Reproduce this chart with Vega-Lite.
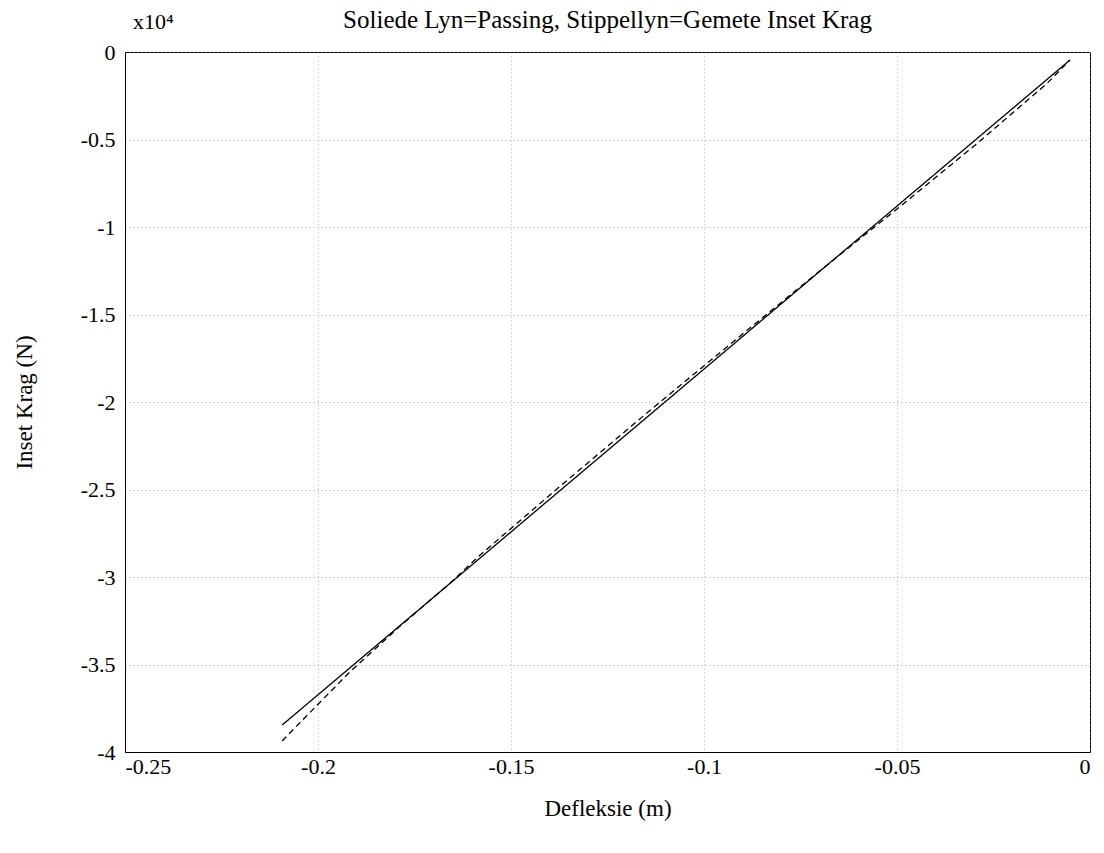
{
  "$schema": "https://vega.github.io/schema/vega-lite/v6.json",
  "width": 965,
  "height": 700,
  "autosize": "none",
  "padding": {"left": 125, "top": 52, "right": 14, "bottom": 101},
  "background": "white",
  "config": {
    "font": "Liberation Serif",
    "view": {"stroke": "black", "strokeWidth": 1},
    "axis": {
      "labelFont": "Liberation Serif",
      "titleFont": "Liberation Serif",
      "labelFontSize": 22,
      "titleFontSize": 23,
      "labelColor": "black",
      "titleColor": "black",
      "titleFontWeight": "normal",
      "domainColor": "black",
      "tickColor": "black",
      "gridColor": "#888888",
      "gridDash": [1, 3],
      "gridOpacity": 0.7,
      "ticks": false
    }
  },
  "title": {
    "text": "Soliede Lyn=Passing, Stippellyn=Gemete Inset Krag",
    "font": "Liberation Serif",
    "fontSize": 25,
    "fontWeight": "normal",
    "color": "black",
    "anchor": "middle",
    "offset": -22
  },
  "datasets": {
    "lines": [
      {"serie": "Passing", "x": -0.0052, "y": -0.046},
      {"serie": "Passing", "x": -0.1043, "y": -1.892},
      {"serie": "Passing", "x": -0.2093, "y": -3.846},
      {"serie": "Gemete", "x": -0.0052, "y": -0.046},
      {"serie": "Gemete", "x": -0.0111, "y": -0.179},
      {"serie": "Gemete", "x": -0.0298, "y": -0.533},
      {"serie": "Gemete", "x": -0.0492, "y": -0.883},
      {"serie": "Gemete", "x": -0.0700, "y": -1.251},
      {"serie": "Gemete", "x": -0.0881, "y": -1.577},
      {"serie": "Gemete", "x": -0.1140, "y": -2.048},
      {"serie": "Gemete", "x": -0.1373, "y": -2.482},
      {"serie": "Gemete", "x": -0.1580, "y": -2.874},
      {"serie": "Gemete", "x": -0.1658, "y": -3.035},
      {"serie": "Gemete", "x": -0.1788, "y": -3.282},
      {"serie": "Gemete", "x": -0.1917, "y": -3.541},
      {"serie": "Gemete", "x": -0.2047, "y": -3.833},
      {"serie": "Gemete", "x": -0.2093, "y": -3.937}
    ],
    "note": [{"x": -0.25, "y": 0, "label": "x10⁴"}]
  },
  "layer": [
    {
      "data": {"name": "lines"},
      "mark": {"type": "line", "strokeWidth": 1.3, "color": "black"},
      "encoding": {
        "x": {
          "field": "x",
          "type": "quantitative",
          "scale": {"domain": [-0.25, 0], "nice": false, "zero": false},
          "axis": {
            "title": "Defleksie (m)",
            "values": [-0.25, -0.2, -0.15, -0.1, -0.05, 0],
            "labelExpr": "datum.value == 0 ? '0' : '-' + format(abs(datum.value), '.2~f')",
            "labelPadding": 4,
            "titlePadding": 20,
            "grid": true
          }
        },
        "y": {
          "field": "y",
          "type": "quantitative",
          "scale": {"domain": [-4, 0], "nice": false, "zero": false},
          "axis": {
            "title": "Inset Krag (N)",
            "values": [0, -0.5, -1, -1.5, -2, -2.5, -3, -3.5, -4],
            "labelExpr": "datum.value == 0 ? '0' : '-' + format(abs(datum.value), '.2~f')",
            "labelPadding": 10,
            "titlePadding": 44,
            "grid": true
          }
        },
        "strokeDash": {
          "field": "serie",
          "type": "nominal",
          "scale": {"domain": ["Passing", "Gemete"], "range": [[1, 0], [6, 4]]},
          "legend": null
        }
      }
    },
    {
      "data": {"name": "note"},
      "mark": {"type": "text", "align": "left", "baseline": "bottom", "dx": 8, "dy": -18, "fontSize": 22, "font": "Liberation Serif", "color": "black"},
      "encoding": {
        "x": {"field": "x", "type": "quantitative"},
        "y": {"field": "y", "type": "quantitative"},
        "text": {"field": "label"}
      }
    }
  ]
}
